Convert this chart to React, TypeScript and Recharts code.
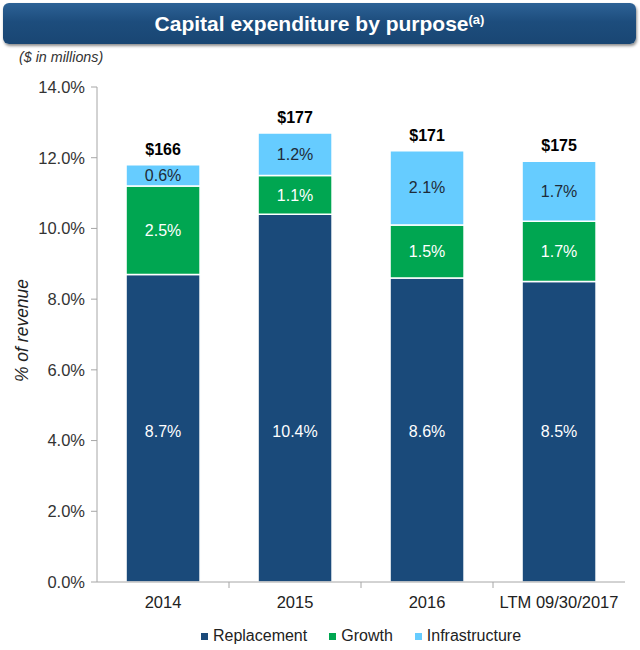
import { BarChart, Bar, XAxis, YAxis, LabelList } from 'recharts'

const categories = ['2014', '2015', '2016', 'LTM 09/30/2017']
const replacement = [8.7, 10.4, 8.6, 8.5]
const growth = [2.5, 1.1, 1.5, 1.7]
const infrastructure = [0.6, 1.2, 2.1, 1.7]
const totals = ['$166', '$177', '$171', '$175']
const yTicks = [0, 2, 4, 6, 8, 10, 12, 14]

const data = categories.map((name, i) => ({
  name,
  replacement: replacement[i],
  growth: growth[i],
  infrastructure: infrastructure[i],
  total: totals[i],
}))

const FONT = '"Liberation Sans", Arial, Helvetica, sans-serif'
const W = 640
const H = 650
const margin = { top: 87, right: 15, bottom: 38, left: 0 }
const Y_W = 97
const X_H = 30
const PLOT_W = W - margin.left - margin.right - Y_W
const PLOT_H = H - margin.top - margin.bottom - X_H
const bandHalf = PLOT_W / categories.length / 2

const colors = {
  replacement: '#1a4a7a',
  growth: '#00a651',
  infrastructure: '#66ccff',
}
const axisColor = '#a6a6a6'

const pct = (v: number) => `${v.toFixed(1)}%`

function CategoryTick({ x, y, payload, index }: any) {
  return (
    <g>
      {index < categories.length - 1 && (
        <line x1={x + bandHalf} x2={x + bandHalf} y1={y} y2={y + 6} stroke={axisColor} />
      )}
      <text x={x} y={y + 26} textAnchor="middle" fill="#222" fontSize={16.5} fontFamily={FONT}>
        {payload.value}
      </text>
    </g>
  )
}

// replacement labels sit at the same height in every bar
function ReplacementLabel({ x, y, width, height, value }: any) {
  return (
    <text
      x={x + width / 2}
      y={y + height - (PLOT_H * 4.25) / 14}
      textAnchor="middle"
      dominantBaseline="central"
      fill="#fff"
      fontSize={16}
      fontFamily={FONT}
    >
      {pct(value)}
    </text>
  )
}

const legendItems = [
  { label: 'Replacement', color: colors.replacement },
  { label: 'Growth', color: colors.growth },
  { label: 'Infrastructure', color: colors.infrastructure },
]

export default function App() {
  return (
    <div style={{ position: 'relative', width: W, height: H, fontFamily: FONT, background: '#fff' }}>
      <style>{'body{margin:0}'}</style>
      <div
        style={{
          position: 'absolute',
          left: 3,
          top: 3,
          width: 633,
          height: 41,
          borderRadius: 6,
          background: 'linear-gradient(#2d6296, #1d4d7d 45%, #194673)',
          boxShadow: '1px 2px 3px rgba(0,0,0,0.45)',
          color: '#fff',
          fontWeight: 'bold',
          fontSize: 21,
          display: 'flex',
          alignItems: 'center',
          justifyContent: 'center',
        }}
      >
        <span>
          Capital expenditure by purpose
          <sup style={{ fontSize: 13, verticalAlign: 7 }}>(a)</sup>
        </span>
      </div>
      <div
        style={{
          position: 'absolute',
          left: 19,
          top: 49,
          fontSize: 14.3,
          fontStyle: 'italic',
          color: '#333',
        }}
      >
        ($ in millions)
      </div>

      <BarChart width={W} height={H} data={data} margin={margin} barCategoryGap="22%">
        <XAxis
          dataKey="name"
          height={X_H}
          stroke={axisColor}
          tickLine={false}
          tickSize={0}
          tickMargin={0}
          interval={0}
          tick={<CategoryTick />}
        />
        <YAxis
          domain={[0, 14]}
          ticks={yTicks}
          interval={0}
          width={Y_W}
          stroke={axisColor}
          tickSize={6}
          tickMargin={6}
          tickFormatter={pct}
          tick={{ fill: '#333', fontSize: 16.5, fontFamily: FONT }}
          label={{
            value: '% of revenue',
            angle: -90,
            position: 'insideLeft',
            offset: 22,
            dy: -4,
            style: { textAnchor: 'middle', fontStyle: 'italic', fontSize: 17.5, fill: '#222', fontFamily: FONT },
          }}
        />
        <Bar dataKey="replacement" stackId="a" fill={colors.replacement} stroke="#fff" strokeWidth={1.5} isAnimationActive={false}>
          <LabelList dataKey="replacement" content={<ReplacementLabel />} />
        </Bar>
        <Bar dataKey="growth" stackId="a" fill={colors.growth} stroke="#fff" strokeWidth={1.5} isAnimationActive={false}>
          <LabelList
            dataKey="growth"
            position="center"
            formatter={(v: any) => pct(Number(v))}
            fill="#fff"
            style={{ fontSize: 16, fontFamily: FONT }}
          />
        </Bar>
        <Bar dataKey="infrastructure" stackId="a" fill={colors.infrastructure} stroke="#fff" strokeWidth={1.5} isAnimationActive={false}>
          <LabelList
            dataKey="infrastructure"
            position="center"
            formatter={(v: any) => pct(Number(v))}
            fill="#1e2b38"
            style={{ fontSize: 16, fontFamily: FONT }}
          />
          <LabelList
            dataKey="total"
            position="top"
            offset={10}
            fill="#000"
            style={{ fontSize: 16, fontWeight: 'bold', fontFamily: FONT }}
          />
        </Bar>
      </BarChart>

      <div
        style={{
          position: 'absolute',
          left: margin.left + Y_W,
          width: PLOT_W,
          top: 627,
          display: 'flex',
          justifyContent: 'center',
          gap: 22,
          fontSize: 16,
          color: '#222',
        }}
      >
        {legendItems.map((it) => (
          <div key={it.label} style={{ display: 'flex', alignItems: 'center' }}>
            <span style={{ width: 7, height: 7, background: it.color, marginRight: 5 }} />
            {it.label}
          </div>
        ))}
      </div>
    </div>
  )
}
